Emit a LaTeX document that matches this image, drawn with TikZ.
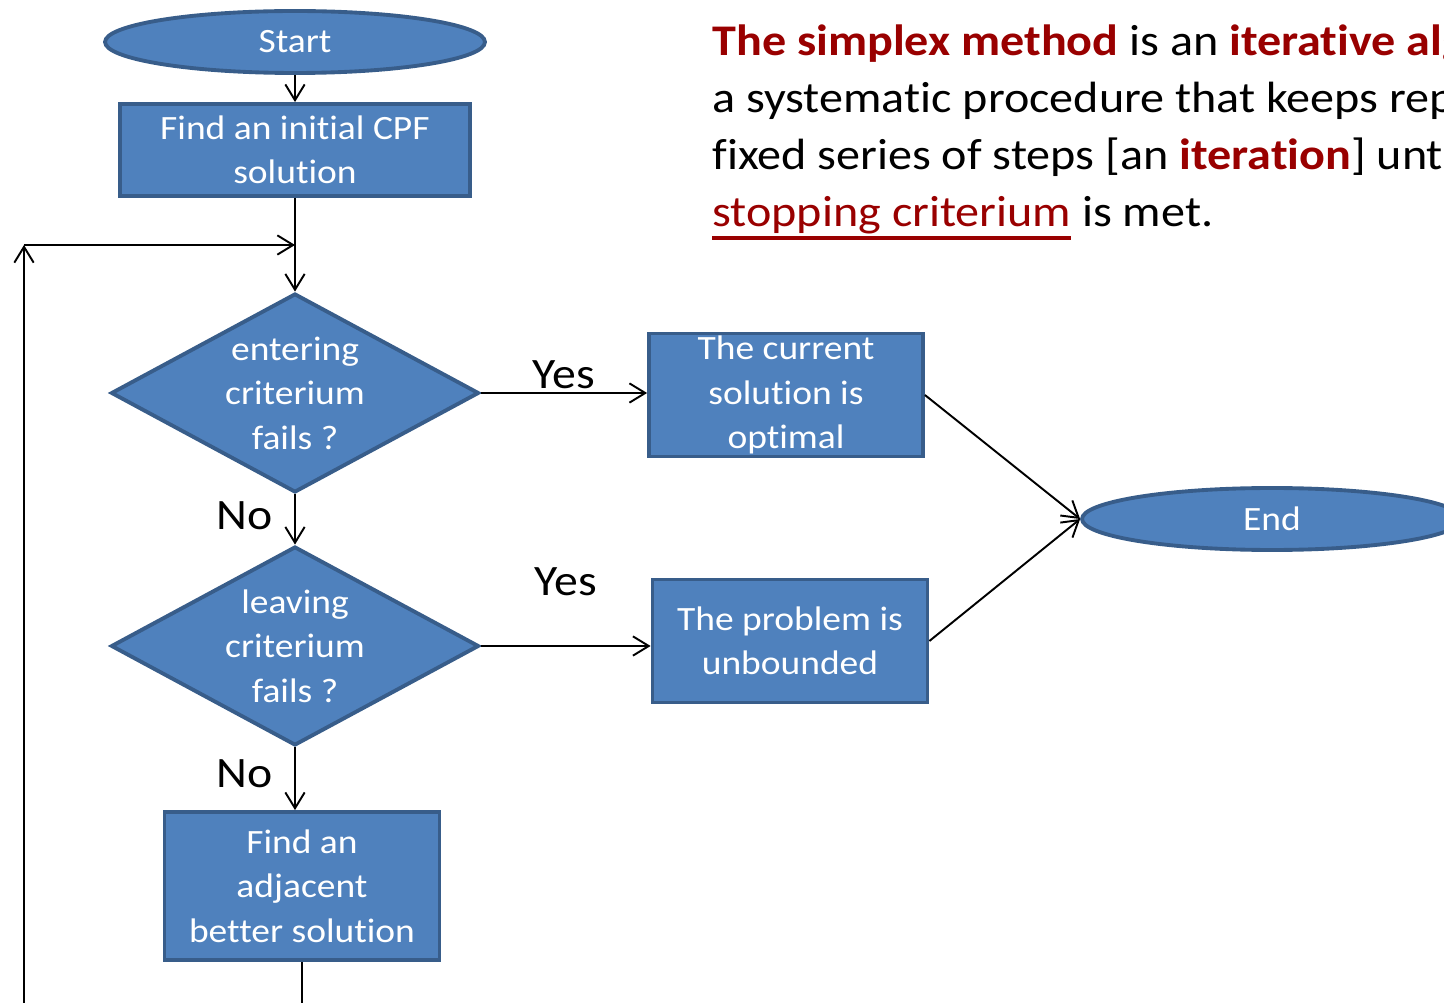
\documentclass[tikz,border=0pt]{standalone}
\usepackage{fontspec}
\setmainfont{Carlito}[Ligatures=NoCommon, FakeStretch=1.1]
\usetikzlibrary{shapes.geometric,arrows.meta}
\definecolor{boxfill}{HTML}{4F81BD}
\definecolor{boxline}{HTML}{385D8A}
\definecolor{darkred}{HTML}{990000}
\tikzset{
  shape base/.style={fill=boxfill, draw=boxline, line width=2.2pt, text=white,
    align=center, inner sep=0pt, font=\fontsize{19.4}{25.3}\selectfont},
  startstop/.style={shape base, ellipse, minimum width=7.6cm, minimum height=1.24cm},
  process/.style={shape base, rectangle, minimum width=#1},
  decision/.style={shape base, diamond, aspect=1.85, inner sep=-3pt,
    minimum width=7.36cm, minimum height=3.98cm},
  conn/.style={line width=1.1pt, -{Straight Barb[length=9pt,width=11pt,line width=1.1pt]}},
  lbl/.style={font=\fontsize{24.7}{30}\selectfont, inner sep=2pt},
  para/.style={font=\fontsize{24.9}{32}\selectfont, anchor=base west, inner sep=0pt}
}
\newcommand{\hl}[1]{\textcolor{darkred}{\textbf{#1}}}
\newcommand{\critline}[1]{\setbox0\hbox{#1}\rlap{\rule[-7.6pt]{\wd0}{2.2pt}}\box0}
\begin{document}
\begin{tikzpicture}[x=0.02cm, y=-0.02cm]
		\useasboundingbox (0,0) rectangle (1444,1003);
		\clip (0,0) rectangle (1444,1003);

		% flowchart
		\node[startstop] (start) at (295, 42) {Start};
		\node[process=7cm, minimum height=1.84cm] (init) at (295, 150) {Find an initial CPF\\solution};
		\node[decision] (enter) at (295, 393) {entering\\criterium\\fails ?};
		\node[decision] (leave) at (295, 646) {leaving\\criterium\\fails ?};
		\node[process=5.48cm, minimum height=2.46cm] (optimal) at (786, 395) {The current\\solution is\\optimal};
		\node[process=5.5cm, minimum height=2.46cm] (unbounded) at (790, 641) {The problem is\\unbounded};
		\node[process=5.5cm, minimum height=2.96cm] (adjacent) at (302, 886) {Find an\\adjacent\\better solution};
		\node[startstop] (end) at (1272, 519) {End};

		\coordinate (loop) at (24, 245);
		\coordinate (merge) at (295, 245);

		\draw[conn] (start) -- (init);
		\draw[conn] (init) -- (enter);
		\draw[conn] (enter.east) -- (optimal.west |- enter.east) node[midway, lbl, above] {Yes};
		\draw[conn] (enter.south) -- (leave.north) node[midway, lbl, left=10pt, yshift=2pt] {No};
		\draw[conn] (leave.east) -- (unbounded.west |- leave.east) node[midway, lbl, above=26pt] {Yes};
		\draw[conn] (leave.south) -- (adjacent.north -| leave.south) node[midway, lbl, left=10pt, yshift=3pt] {No};
		\draw[conn] (optimal.east) -- (end.west);
		\draw[conn] (unbounded.east) -- (end.west);
		% back to the test
		\draw[conn] (adjacent.south) -- ++(0, 80) -| (loop);
		\draw[conn] (loop) -- (merge);

		% text
		\node[para] (linea) at (712, 56) {\hl{The simplex method} is an \hl{iterative algorithm}};
		\node[para] (lineb) at (712, 113) {a systematic procedure that keeps repeating};
		\node[para] (linec) at (712, 170) {fixed series of steps [an \hl{iteration}] until};
		\node[para] (lined) at (712, 227) {\textcolor{darkred}{\critline{stopping criterium}} is met.};
	\end{tikzpicture}
\end{document}
